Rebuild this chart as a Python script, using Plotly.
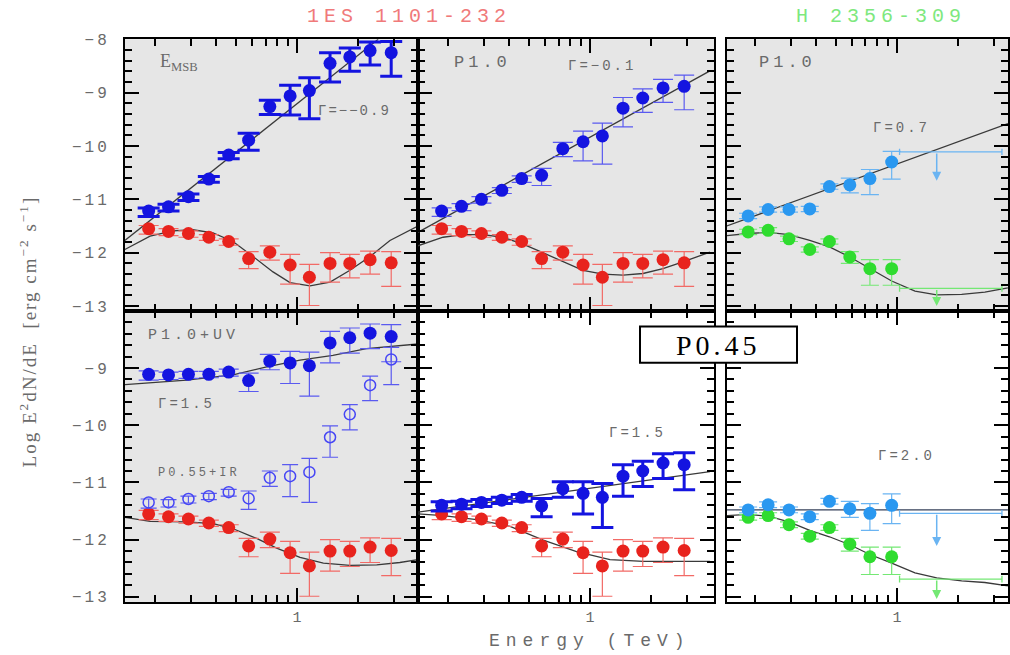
import math
import plotly.graph_objects as go

W, H = 1010, 655

# ---------------- data (log10 E^2 dN/dE vs energy in TeV) ----------------
E_1es = [0.186, 0.233, 0.292, 0.368, 0.461, 0.578, 0.735, 0.925, 1.151, 1.455, 1.820, 2.291, 2.911]
obs_1es = [-11.55, -11.60, -11.64, -11.71, -11.79, -12.11, -11.99, -12.23, -12.46, -12.20, -12.20, -12.13, -12.19]
err_up_1es = [0.06, 0.05, 0.05, 0.05, 0.05, 0.13, 0.12, 0.20, 0.24, 0.20, 0.17, 0.16, 0.21]
err_dn_1es = [0.10, 0.08, 0.07, 0.06, 0.07, 0.19, 0.15, 0.36, 0.53, 0.35, 0.27, 0.27, 0.44]
deabs_emsb = [-11.22, -11.14, -10.95, -10.62, -10.17, -9.89, -9.26, -9.06, -8.96, -8.45, -8.33, -8.21, -8.25]
deabs_p10 = [-11.22, -11.13, -11.00, -10.83, -10.61, -10.55, -10.05, -9.92, -9.81, -9.29, -9.10, -8.91, -8.88]
deabs_p10uv = [-9.11, -9.12, -9.11, -9.11, -9.07, -9.22, -8.88, -8.91, -8.96, -8.56, -8.47, -8.39, -8.45]
deabs_p055ir = [-11.35, -11.35, -11.29, -11.24, -11.17, -11.28, -10.92, -10.89, -10.82, -10.21, -9.81, -9.30, -8.85]
deabs_p045 = [-11.40, -11.38, -11.35, -11.31, -11.26, -11.41, -11.11, -11.19, -11.26, -10.89, -10.80, -10.66, -10.69]

E_h2356 = [0.185, 0.232, 0.294, 0.372, 0.465, 0.586, 0.736, 0.942]
obs_h2356 = [-11.61, -11.58, -11.74, -11.94, -11.79, -12.08, -12.30, -12.30]
err_up_hobs = [0.05, 0.05, 0.05, 0.05, 0.05, 0.10, 0.17, 0.17]
err_dn_hobs = [0.05, 0.05, 0.05, 0.05, 0.05, 0.12, 0.31, 0.31]
deabs_h_p10 = [-11.31, -11.19, -11.19, -11.18, -10.76, -10.73, -10.61, -10.30]
deabs_h_p045 = [-11.48, -11.39, -11.48, -11.60, -11.33, -11.46, -11.54, -11.40]
err_up_hdeabs = [0.05, 0.05, 0.05, 0.05, 0.05, 0.13, 0.17, 0.20]
err_dn_hdeabs = [0.05, 0.05, 0.05, 0.05, 0.05, 0.15, 0.30, 0.32]

# upper limits for H 2356-309: bin edges, arrow energy, [level, arrow tip]
ul_E_bin = [1.03, 3.29]
ul_E_arrow = 1.57
ul_deabs_p10 = [-10.11, -10.65]
ul_obs_top = [-12.67, -13.00]
ul_deabs_p045 = [-11.54, -12.11]
ul_obs_bottom = [-12.69, -13.04]

# model curves
line_emsb_E = [0.142, 2.51]
line_emsb_y = [-11.77, -8.00]
curve_emsb_E = [0.142, 0.189, 0.245, 0.307, 0.386, 0.484, 0.607, 0.762, 0.924, 1.159, 1.455, 1.824, 2.29, 2.87, 3.94]
curve_emsb_y = [-11.94, -11.69, -11.59, -11.57, -11.63, -11.79, -12.07, -12.36, -12.56, -12.62, -12.55, -12.33, -12.07, -11.77, -11.50]

line_p10_E = [0.142, 3.90]
line_p10_y = [-11.62, -8.59]
curve_p10_E = [0.142, 0.189, 0.237, 0.297, 0.372, 0.468, 0.586, 0.736, 0.924, 1.159, 1.455, 1.824, 2.29, 2.87, 3.90]
curve_p10_y = [-11.87, -11.71, -11.66, -11.66, -11.71, -11.84, -12.00, -12.17, -12.33, -12.40, -12.42, -12.39, -12.30, -12.17, -11.99]

line_h_p10_E = [0.145, 3.52]
line_h_p10_y = [-11.50, -9.58]
curve_h_E = [0.145, 0.185, 0.232, 0.294, 0.372, 0.465, 0.586, 0.736, 0.942, 1.227, 1.570, 2.084, 2.71, 3.52]
curve_h_p10_y = [-11.68, -11.64, -11.62, -11.66, -11.77, -11.89, -12.08, -12.29, -12.53, -12.72, -12.79, -12.78, -12.74, -12.66]
curve_h_p045_y = [-11.58, -11.56, -11.59, -11.69, -11.84, -11.95, -12.09, -12.26, -12.41, -12.58, -12.67, -12.72, -12.75, -12.81]
line_h_p045_E = [0.145, 3.52]
line_h_p045_y = [-11.48, -11.48]

line_uv_E = [0.142, 0.286, 0.484, 0.709, 1.035, 1.503, 2.20, 3.94]
line_uv_y = [-9.29, -9.21, -9.12, -8.98, -8.86, -8.78, -8.66, -8.58]
curve_uv_E = [0.142, 0.189, 0.286, 0.387, 0.485, 0.633, 0.794, 1.035, 1.349, 1.824, 2.47, 3.21, 3.94]
curve_uv_y = [-11.61, -11.68, -11.69, -11.72, -11.81, -11.98, -12.15, -12.31, -12.41, -12.45, -12.44, -12.40, -12.35]

line_p045_E = [0.142, 3.90]
line_p045_y = [-11.52, -10.81]
curve_p045_E = [0.142, 0.189, 0.277, 0.404, 0.589, 0.859, 1.255, 1.832, 2.67, 3.90]
curve_p045_y = [-11.55, -11.58, -11.65, -11.77, -12.01, -12.21, -12.35, -12.38, -12.38, -12.38]

y_ticks_top = [-8, -9, -10, -11, -12, -13]
y_ticks_bottom = [-9, -10, -11, -12, -13]
x_minor = [0.2, 0.3, 0.4, 0.5, 0.6, 0.7, 0.8, 0.9, 2, 3]

# ---------------- styling ----------------
RED = "#e8231d"
RED_E = "#f26a66"
BLUE = "#1414e0"
BLUE_E = "#5a5af0"
LBLUE = "#2a98f0"
LBLUE_E = "#6ab4f2"
GREEN = "#2fdc2f"
GREEN_E = "#74e874"
CURVE = "#3a3a3a"
GRAYBG = "#e6e6e6"
TXT = "#6a6a6a"
MONO = "Liberation Mono, DejaVu Sans Mono, monospace"
SERIF = "Liberation Serif, DejaVu Serif, serif"


def sp(text, ls):
    return "<span style='letter-spacing:%dpx'>%s</span>" % (ls, text)


def X(p):
    return p / W


def Y(p):
    return 1 - p / H


panels = {
    1: dict(xd=(125, 418), yd=(33, 310), xr=(-0.847, 0.596), gray=True, ylab=True, xlab=False, top=True),
    2: dict(xd=(418, 714), yd=(33, 310), xr=(-0.847, 0.611), gray=True, ylab=False, xlab=False, top=True),
    3: dict(xd=(727, 1008), yd=(33, 310), xr=(-0.837, 0.547), gray=True, ylab=False, xlab=False, top=True),
    4: dict(xd=(125, 418), yd=(310, 607), xr=(-0.847, 0.596), gray=True, ylab=True, xlab=True, top=False),
    5: dict(xd=(418, 714), yd=(310, 607), xr=(-0.847, 0.611), gray=False, ylab=False, xlab=True, top=False),
    6: dict(xd=(727, 1008), yd=(310, 607), xr=(-0.837, 0.547), gray=False, ylab=False, xlab=True, top=False),
}

fig = go.Figure()
layout = dict(
    width=W, height=H, margin=dict(l=0, r=0, t=0, b=0),
    paper_bgcolor="white", plot_bgcolor="white", showlegend=False,
)
shapes = []
annotations = []

for i, p in panels.items():
    sx = "" if i == 1 else str(i)
    yt = y_ticks_top if p["top"] else y_ticks_bottom
    layout["xaxis" + sx] = dict(
        type="log", range=list(p["xr"]), domain=[X(p["xd"][0]), X(p["xd"][1])],
        anchor="y" + sx, showline=True, linecolor="black", linewidth=2, mirror="ticks",
        ticks="inside", ticklen=14, tickwidth=1.5, tickcolor="black",
        tickmode="array", tickvals=[1], ticktext=["1"], showticklabels=p["xlab"],
        tickfont=dict(family=MONO, size=15, color=TXT), ticklabelstandoff=0,
        minor=dict(ticks="inside", ticklen=7, tickwidth=1.5, tickcolor="black", tickvals=x_minor),
        showgrid=False, zeroline=False,
    )
    layout["yaxis" + sx] = dict(
        range=[-13.09, -8.0], domain=[Y(p["yd"][1]), Y(p["yd"][0])],
        anchor="x" + sx, showline=True, linecolor="black", linewidth=2, mirror="ticks",
        ticks="inside", ticklen=14, tickwidth=1.5, tickcolor="black",
        tickmode="array", tickvals=yt,
        ticktext=[sp("\u2212%d" % abs(v), 3) for v in yt], showticklabels=p["ylab"],
        tickfont=dict(family=MONO, size=16, color=TXT), ticklabelstandoff=10,
        minor=dict(ticks="inside", ticklen=7, tickwidth=1.5, tickcolor="black", dtick=0.2, tick0=0),
        showgrid=False, zeroline=False,
    )
    if p["gray"]:
        shapes.append(dict(type="rect", xref="x%s domain" % sx, yref="y%s domain" % sx,
                           x0=0, x1=1, y0=0, y1=1, fillcolor=GRAYBG, line=dict(width=0), layer="below"))


def ref(i):
    return ("x", "y") if i == 1 else ("x%d" % i, "y%d" % i)


def add_curve(i, E, y, color=CURVE, width=1.3):
    xr, yr = ref(i)
    fig.add_trace(go.Scatter(x=E, y=y, mode="lines", line=dict(color=color, width=width),
                             xaxis=xr, yaxis=yr, hoverinfo="skip"))


def add_points(i, E, y, up, dn, color, ecolor, ethick, ewidth, symbol="circle", size=13, lw=0):
    xr, yr = ref(i)
    fig.add_trace(go.Scatter(
        x=E, y=y, mode="markers", xaxis=xr, yaxis=yr,
        marker=dict(symbol=symbol, size=size, color=color, line=dict(width=lw, color=color)),
        error_y=dict(type="data", array=up, arrayminus=dn, color=ecolor,
                     thickness=ethick, width=ewidth, symmetric=False),
    ))


def add_ul(i, level, color):
    xr, yr = ref(i)
    fig.add_trace(go.Scatter(
        x=ul_E_bin, y=[level[0], level[0]], mode="lines", xaxis=xr, yaxis=yr,
        line=dict(color=color, width=1.3),
        error_y=dict(type="constant", value=0.06, color=color, thickness=1.3, width=0),
    ))
    annotations.append(dict(
        x=math.log10(ul_E_arrow), y=level[1], ax=math.log10(ul_E_arrow), ay=level[0],
        xref=xr, yref=yr, axref=xr, ayref=yr, showarrow=True, arrowhead=2,
        arrowsize=1.2, arrowwidth=1.5, arrowcolor=color, text="",
    ))


# panel 1: E_MSB
add_curve(1, line_emsb_E, line_emsb_y)
add_curve(1, curve_emsb_E, curve_emsb_y)
add_points(1, E_1es, obs_1es, err_up_1es, err_dn_1es, RED, RED_E, 1.2, 10)
add_points(1, E_1es, deabs_emsb, err_up_1es, err_dn_1es, BLUE, BLUE, 3, 11)

# panel 2: P1.0 (1ES 1101-232)
add_curve(2, line_p10_E, line_p10_y)
add_curve(2, curve_p10_E, curve_p10_y)
add_points(2, E_1es, obs_1es, err_up_1es, err_dn_1es, RED, RED_E, 1.2, 10)
add_points(2, E_1es, deabs_p10, err_up_1es, err_dn_1es, BLUE, BLUE_E, 1.2, 10)

# panel 3: P1.0 (H 2356-309)
add_curve(3, line_h_p10_E, line_h_p10_y)
add_curve(3, curve_h_E, curve_h_p10_y)
add_points(3, E_h2356, obs_h2356, err_up_hobs, err_dn_hobs, GREEN, GREEN_E, 1.2, 9)
add_points(3, E_h2356, deabs_h_p10, err_up_hdeabs, err_dn_hdeabs, LBLUE, LBLUE_E, 1.2, 9)
add_ul(3, ul_deabs_p10, LBLUE_E)
add_ul(3, ul_obs_top, GREEN_E)

# panel 4: P1.0+UV and P0.55+IR
add_curve(4, line_uv_E, line_uv_y)
add_curve(4, curve_uv_E, curve_uv_y)
add_points(4, E_1es, obs_1es, err_up_1es, err_dn_1es, RED, RED_E, 1.2, 10)
add_points(4, E_1es, deabs_p10uv, err_up_1es, err_dn_1es, BLUE, BLUE_E, 1.2, 10)
add_points(4, E_1es, deabs_p055ir, err_up_1es, err_dn_1es, "#4646f5", "#5a5af0", 1.2, 8,
           symbol="circle-open", size=11, lw=1.5)

# panel 5: P0.45 (1ES 1101-232)
add_curve(5, line_p045_E, line_p045_y)
add_curve(5, curve_p045_E, curve_p045_y)
add_points(5, E_1es, obs_1es, err_up_1es, err_dn_1es, RED, RED_E, 1.2, 10)
add_points(5, E_1es, deabs_p045, err_up_1es, err_dn_1es, BLUE, BLUE, 3, 11)

# panel 6: P0.45 (H 2356-309)
add_curve(6, line_h_p045_E, line_h_p045_y, color="#34405a")
add_curve(6, curve_h_E, curve_h_p045_y)
add_points(6, E_h2356, obs_h2356, err_up_hobs, err_dn_hobs, GREEN, GREEN_E, 1.2, 9)
add_points(6, E_h2356, deabs_h_p045, err_up_hdeabs, err_dn_hdeabs, LBLUE, LBLUE_E, 1.2, 9)
add_ul(6, ul_deabs_p045, LBLUE_E)
add_ul(6, ul_obs_bottom, GREEN_E)


# ---------------- texts ----------------
def txt(x, y, s, size=15, color=TXT, family=MONO, xanchor="left", **kw):
    d = dict(x=X(x), y=Y(y), xref="paper", yref="paper", text=s, showarrow=False,
             xanchor=xanchor, yanchor="middle", font=dict(family=family, size=size, color=color))
    d.update(kw)
    annotations.append(d)


txt(158, 57, "E<sub>MSB</sub>", size=18, family=SERIF)
txt(316, 106, sp("\u0393=\u2212\u22120.9", 2), size=14)
txt(452, 57, sp("P1.0", 4), size=17)
txt(566, 60, sp("\u0393=\u22120.1", 3), size=14)
txt(757, 57, sp("P1.0", 4), size=17)
txt(871, 123, sp("\u0393=0.7", 3), size=14)
txt(146, 335, sp("P1.0+UV", 4), size=15)
txt(156, 405, sp("\u0393=1.5", 3), size=14)
txt(156, 475, sp("P0.55+IR", 3), size=12)
txt(607, 435, sp("\u0393=1.5", 3), size=14)
txt(876, 458, sp("\u0393=2.0", 3), size=14)

# titles (partly cut at the top in the reference)
annotations.append(dict(x=X(409), y=Y(23), xref="paper", yref="paper", yanchor="bottom",
                        xanchor="center", showarrow=False, text=sp("1ES 1101-232", 5),
                        font=dict(family=MONO, size=20, color="#f07a7a")))
annotations.append(dict(x=X(881), y=Y(23), xref="paper", yref="paper", yanchor="bottom",
                        xanchor="center", showarrow=False, text=sp("H 2356-309", 5),
                        font=dict(family=MONO, size=20, color="#7ee87e")))

# axis titles
txt(590, 647, sp("Energy (TeV)", 6), size=18, xanchor="center")
annotations.append(dict(x=X(28), y=Y(331), xref="paper", yref="paper", showarrow=False,
                        textangle=-90, xanchor="center", yanchor="middle",
                        text=sp("Log E<sup>2</sup>dN/dE  [erg cm<sup>\u22122</sup> s<sup>\u22121</sup>]", 2),
                        font=dict(family=SERIF, size=19, color=TXT)))

# P0.45 label box
shapes.append(dict(type="rect", xref="paper", yref="paper", x0=X(640), x1=X(797), y0=Y(363), y1=Y(326),
                   line=dict(color="black", width=2), fillcolor="white", layer="above"))
annotations.append(dict(x=X(718), y=Y(345), xref="paper", yref="paper", showarrow=False,
                        xanchor="center", yanchor="middle", text=sp("P0.45", 4),
                        font=dict(family=SERIF, size=28, color="black")))

layout["shapes"] = shapes
layout["annotations"] = annotations
fig.update_layout(**layout)
fig.write_html("out.html", config={"displayModeBar": False},
               post_script="document.body.style.margin='0px';")
